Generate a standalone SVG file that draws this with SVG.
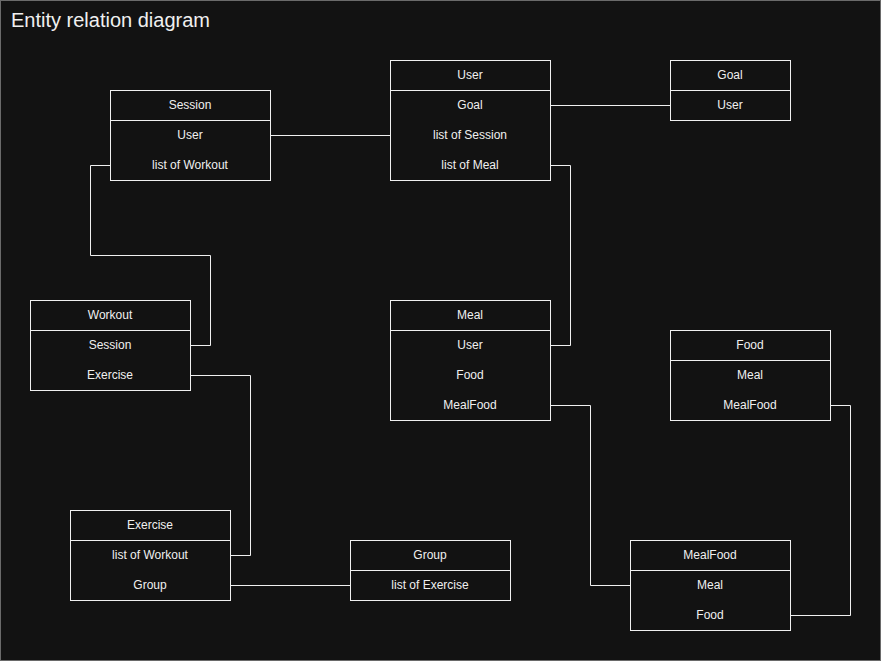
<svg xmlns="http://www.w3.org/2000/svg" width="881" height="661" viewBox="0 0 881 661">
<style>
.bg{fill:#121212;stroke:#6a6a6a;stroke-width:1}
.box{fill:#121212;stroke:#f0f0f0;stroke-width:1}
.div{stroke:#f0f0f0;stroke-width:1}
.t{font-family:"Liberation Sans",Arial,sans-serif;font-size:12px;fill:#f0f0f0;text-anchor:middle;dominant-baseline:central}
.title{font-family:"Liberation Sans",Arial,sans-serif;font-size:20px;fill:#f0f0f0}
.c{fill:none;stroke:#f0f0f0;stroke-width:1}
</style>
<rect class="bg" x="0.5" y="0.5" width="880" height="660"/>
<text class="title" x="11" y="27">Entity relation diagram</text>
<g id="connectors">
<path class="c" d="M270.5,135.5 H390.5"/>
<path class="c" d="M550.5,105.5 H670.5"/>
<path class="c" d="M110.5,165.5 H90.5 V255.5 H210.5 V345.5 H190.5"/>
<path class="c" d="M550.5,165.5 H570.5 V345.5 H550.5"/>
<path class="c" d="M190.5,375.5 H250.5 V555.5 H230.5"/>
<path class="c" d="M230.5,585.5 H350.5"/>
<path class="c" d="M550.5,405.5 H590.5 V585.5 H630.5"/>
<path class="c" d="M830.5,405.5 H850.5 V615.5 H790.5"/>
</g>
<g id="Session">
<rect class="box" x="110.5" y="90.5" width="160" height="90"/>
<line class="div" x1="110.5" y1="120.5" x2="270.5" y2="120.5"/>
<text class="t" x="190" y="105">Session</text>
<text class="t" x="190" y="135">User</text>
<text class="t" x="190" y="165">list of Workout</text>
</g>
<g id="User">
<rect class="box" x="390.5" y="60.5" width="160" height="120"/>
<line class="div" x1="390.5" y1="90.5" x2="550.5" y2="90.5"/>
<text class="t" x="470" y="75">User</text>
<text class="t" x="470" y="105">Goal</text>
<text class="t" x="470" y="135">list of Session</text>
<text class="t" x="470" y="165">list of Meal</text>
</g>
<g id="Goal">
<rect class="box" x="670.5" y="60.5" width="120" height="60"/>
<line class="div" x1="670.5" y1="90.5" x2="790.5" y2="90.5"/>
<text class="t" x="730" y="75">Goal</text>
<text class="t" x="730" y="105">User</text>
</g>
<g id="Workout">
<rect class="box" x="30.5" y="300.5" width="160" height="90"/>
<line class="div" x1="30.5" y1="330.5" x2="190.5" y2="330.5"/>
<text class="t" x="110" y="315">Workout</text>
<text class="t" x="110" y="345">Session</text>
<text class="t" x="110" y="375">Exercise</text>
</g>
<g id="Meal">
<rect class="box" x="390.5" y="300.5" width="160" height="120"/>
<line class="div" x1="390.5" y1="330.5" x2="550.5" y2="330.5"/>
<text class="t" x="470" y="315">Meal</text>
<text class="t" x="470" y="345">User</text>
<text class="t" x="470" y="375">Food</text>
<text class="t" x="470" y="405">MealFood</text>
</g>
<g id="Food">
<rect class="box" x="670.5" y="330.5" width="160" height="90"/>
<line class="div" x1="670.5" y1="360.5" x2="830.5" y2="360.5"/>
<text class="t" x="750" y="345">Food</text>
<text class="t" x="750" y="375">Meal</text>
<text class="t" x="750" y="405">MealFood</text>
</g>
<g id="Exercise">
<rect class="box" x="70.5" y="510.5" width="160" height="90"/>
<line class="div" x1="70.5" y1="540.5" x2="230.5" y2="540.5"/>
<text class="t" x="150" y="525">Exercise</text>
<text class="t" x="150" y="555">list of Workout</text>
<text class="t" x="150" y="585">Group</text>
</g>
<g id="Group">
<rect class="box" x="350.5" y="540.5" width="160" height="60"/>
<line class="div" x1="350.5" y1="570.5" x2="510.5" y2="570.5"/>
<text class="t" x="430" y="555">Group</text>
<text class="t" x="430" y="585">list of Exercise</text>
</g>
<g id="MealFood">
<rect class="box" x="630.5" y="540.5" width="160" height="90"/>
<line class="div" x1="630.5" y1="570.5" x2="790.5" y2="570.5"/>
<text class="t" x="710" y="555">MealFood</text>
<text class="t" x="710" y="585">Meal</text>
<text class="t" x="710" y="615">Food</text>
</g>
</svg>
